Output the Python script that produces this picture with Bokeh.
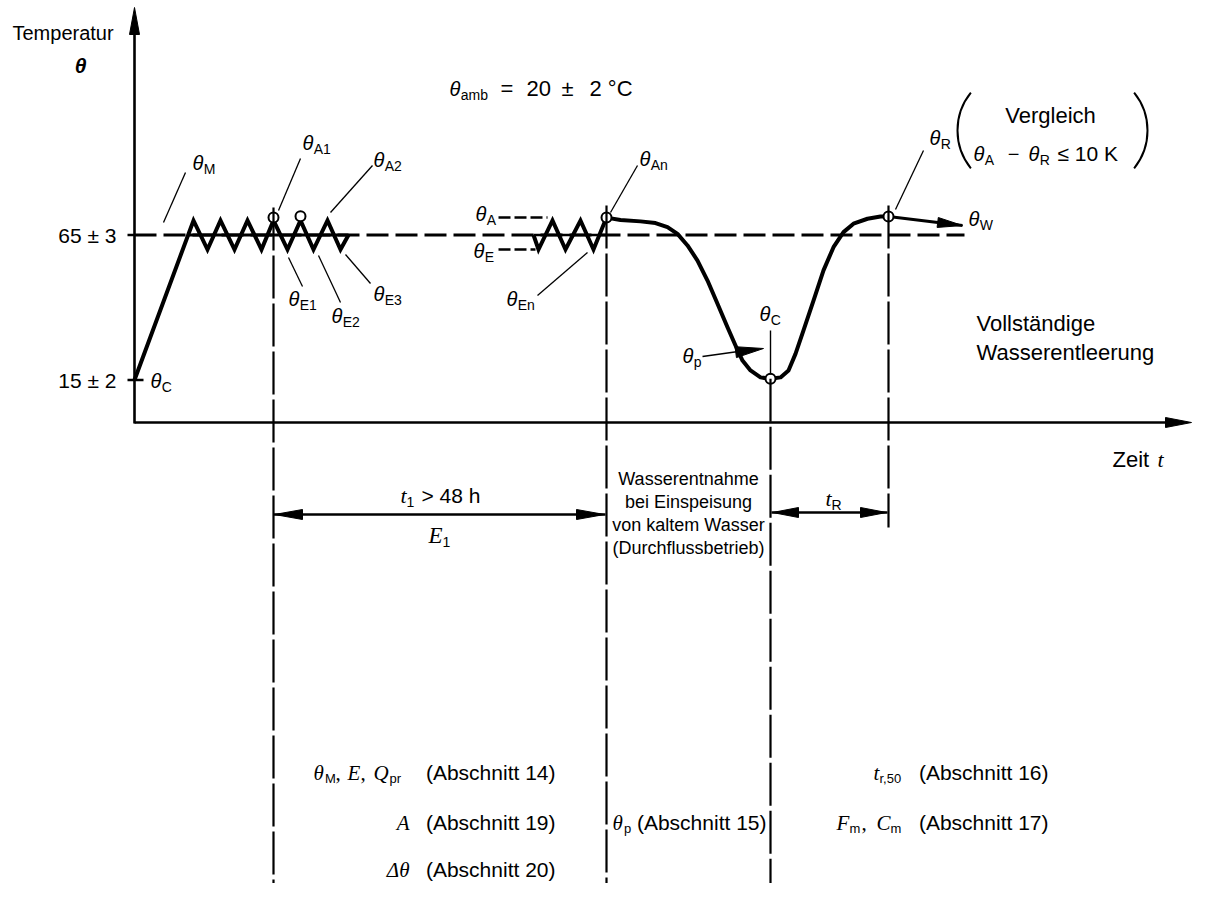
import math
from bokeh.plotting import figure
from bokeh.models import Range1d
from bokeh.embed import file_html
from bokeh.resources import INLINE
from bokeh.core.properties import value

# ---------------- data (time: arbitrary units, temperature: °C) ----------------
T_target = 65          # 65 ± 3
T_cold = 15            # 15 ± 2
tick_labels = ["65 ± 3", "15 ± 2"]
tick_values = [T_target, T_cold]

# heating ramp followed by on/off cycles (θ_A peaks / θ_E troughs)
heat_t = [0, 59, 73, 86, 100, 113, 127, 139, 153, 166, 179, 193, 206, 214]
heat_T = [15, 70, 60, 70, 60, 70, 60, 70, 60, 70, 60, 70, 60, 65]

# last cycles before the draw-off (θ_En, θ_An)
cycle_t = [399, 404, 418, 431, 446, 459, 472]
cycle_T = [65, 60, 70, 60, 70, 60, 71]

# draw-off with cold water feed and recovery (θ_An -> θ_C -> θ_R)
draw_t = [472, 486, 506, 521, 533, 543, 553, 563, 573, 583, 593, 601, 608, 616,
          626, 636, 646, 654, 661, 669, 679, 689, 699, 709, 719, 733, 746, 754]
draw_T = [71, 70.2, 69.7, 69.1, 67.7, 65.4, 61.4, 56.2, 49.3, 41.3, 33.2, 26.9,
          21.7, 18.3, 15.9, 15.4, 15.9, 18.3, 24.0, 32.1, 42.4, 52.8, 60.8, 66.0,
          68.9, 70.6, 71.4, 71.4]

# marked points: θ_A1, θ_A2, θ_An, θ_C, θ_R
mark_t = [139, 166, 472, 636, 754]
mark_T = [71, 71.5, 71, 15.4, 71.4]

# θ_W continuation
W_t = [754, 828]
W_T = [71.4, 68.3]

# ---------------- layout helpers (page pixels -> data units) ----------------
X0, Y0, K = 134.0, 423.0, 2.9
SANS = "Liberation Sans"
SERIF = "Liberation Serif"


def X(px):
    return px - X0


def Y(py):
    return (Y0 - py) / K


p = figure(width=1192, height=883, output_backend="svg", toolbar_location=None,
           x_range=Range1d(X(0), X(1192)), y_range=Range1d(Y(883), Y(0)),
           x_axis_type=None, y_axis_type=None, min_border=0, title=None)
p.outline_line_color = None
p.background_fill_color = "white"
p.border_fill_color = "white"
p.xgrid.visible = False
p.ygrid.visible = False


def txt(px, py, s, size=20, font=SANS, style="normal", align="left"):
    p.text(x=[X(px)], y=[Y(py)], text=[s], text_font=value(font),
           text_font_size=f"{size}px", text_font_style=style, text_align=align,
           text_baseline="middle", text_color="black")


def theta(px, py, sub, size=20, subsize=14, font=SANS, style="italic", w=0.56):
    txt(px, py, "θ", size, font, style)
    txt(px + w * size, py + 6, sub, subsize, SANS)


def seg(x0, y0, x1, y1, w=1.3, dash="solid"):
    p.line([X(x0), X(x1)], [Y(y0), Y(y1)], line_width=w, line_color="black",
           line_dash=dash)


def head(tx, ty, fx, fy, L=26, hw=5):
    dx, dy = tx - fx, ty - fy
    n = math.hypot(dx, dy)
    ux, uy = dx / n, dy / n
    bx, by = tx - ux * L, ty - uy * L
    nx, ny = -uy, ux
    pts = [(tx, ty), (bx + nx * hw, by + ny * hw), (bx - nx * hw, by - ny * hw)]
    p.patch([X(a) for a, b in pts], [Y(b) for a, b in pts], fill_color="black",
            line_color="black", line_width=1)


# ---------------- axes ----------------
seg(134, 423, 134, 30, 2.6)
head(134, 7, 134, 40, 27, 5)
seg(134, 422, 1170, 422, 2.6)
head(1191, 422, 1150, 422, 26, 5)

# ticks
p.line([X(127), 0], [T_target, T_target], line_width=2.5, line_color="black")
p.line([X(127), X(143)], [T_cold, T_cold], line_width=2.5, line_color="black")
txt(116, 235, tick_labels[0], 21, align="right")
txt(116, 380, tick_labels[1], 21, align="right")

txt(12, 32, "Temperatur", 20)
txt(80, 65, "θ", 21, SANS, "bold italic", "center")
txt(1112, 459, "Zeit", 22)
txt(1157, 459, "t", 22, SERIF, "italic")

# 65 °C reference line
p.line([0, X(964)], [T_target, T_target], line_width=3, line_color="black",
       line_dash="22 7")
p.line([53, 214], [T_target, T_target], line_width=3, line_color="black")
p.line([399, 472], [T_target, T_target], line_width=2.5, line_color="black")

# ---------------- curves ----------------
p.line(heat_t, heat_T, line_width=4, line_color="black", line_join="miter")
p.line(cycle_t, cycle_T, line_width=4, line_color="black", line_join="miter")
p.line(draw_t, draw_T, line_width=4, line_color="black", line_join="round")
p.line(W_t, W_T, line_width=3, line_color="black")
head(962, 225, 888, 216, 25, 5)

p.scatter(mark_t, mark_T, marker="circle", size=10, fill_color="white",
          line_color="black", line_width=2)

# ---------------- vertical dash-dot separators ----------------
VD = "43 5"
p.line([mark_t[0]] * 2, [Y(207), Y(899)], line_width=2.2, line_color="black", line_dash=VD)
p.line([mark_t[2]] * 2, [Y(205), Y(899)], line_width=2.2, line_color="black", line_dash=VD)
p.line([mark_t[3]] * 2, [mark_T[3], Y(899)], line_width=2.2, line_color="black", line_dash=VD)
p.line([mark_t[4]] * 2, [Y(205), Y(527)], line_width=2.2, line_color="black", line_dash=VD)
seg(770, 330, 770, 374, 1.4)

# ---------------- leaders and θ labels ----------------
seg(185, 172, 163, 222)
seg(300, 158, 278, 210)
seg(372, 165, 330, 212)
seg(288, 257, 302, 286)
seg(318, 255, 340, 302)
seg(345, 254, 370, 283)
seg(537, 295, 587, 252)
seg(637, 165, 610, 212)
seg(923, 150, 895, 209)
seg(498, 217, 547, 217, 2.5, "12 4")
seg(498, 249, 535, 249, 2.5, "12 4")

theta(150, 380, "C")
theta(192, 162, "M")
theta(302, 142, "A1")
theta(373, 159, "A2")
theta(288, 298, "E1")
theta(331, 315, "E2")
theta(373, 293, "E3")
theta(475, 213, "A")
theta(473, 250, "E")
theta(506, 298, "En")
theta(639, 158, "An")
theta(929, 137, "R")
theta(968, 218, "W")
theta(759, 313, "C")
theta(682, 355, "p")
seg(702, 356, 745, 350, 1.6)
head(763, 348, 702, 356, 28, 5.5)

# ambient
theta(449, 88, "amb")
txt(500, 88, "=", 22)
txt(526, 88, "20", 22)
txt(561, 88, "±", 22)
txt(589, 88, "2 °C", 22)

# comparison
p.arc(x=[X(1017)], y=[Y(130)], radius=60, radius_units="screen",
      start_angle=141, end_angle=219, start_angle_units="deg", end_angle_units="deg",
      line_color="black", line_width=2)
p.arc(x=[X(1087)], y=[Y(130)], radius=60, radius_units="screen",
      start_angle=-39, end_angle=39, start_angle_units="deg", end_angle_units="deg",
      line_color="black", line_width=2)
txt(1050, 115, "Vergleich", 22, align="center")
theta(973, 153, "A")
txt(1013, 153, "−", 20, align="center")
theta(1028, 153, "R")
txt(1057, 153, "≤ 10 K", 21)

txt(976, 323, "Vollständige", 22)
txt(976, 352, "Wasserentleerung", 22)

# ---------------- time spans ----------------
seg(273, 514, 605, 514, 2.5)
head(274, 514, 320, 514, 28, 5)
head(604, 514, 560, 514, 28, 5)
txt(400, 495, "t", 22, SERIF, "italic")
txt(406, 501, "1", 14)
txt(421, 495, "> 48 h", 21)
txt(428, 535, "E", 23, SERIF, "italic")
txt(442, 541, "1", 14)

seg(771, 512, 887, 512, 2.5)
head(772, 512, 820, 512, 26, 5)
head(886, 512, 840, 512, 26, 5)
txt(825, 498, "t", 22, SERIF, "italic")
txt(831, 504, "R", 14)

for i, line in enumerate(["Wasserentnahme", "bei Einspeisung", "von kaltem Wasser",
                          "(Durchflussbetrieb)"]):
    txt(688, 478 + 23 * i, line, 18, align="center")

# ---------------- bottom references ----------------
theta(313, 772, "M", 21, 13, SERIF, "italic", 0.55)
txt(335, 772, ",", 21, SERIF)
txt(347, 772, "E", 21, SERIF, "italic")
txt(360, 772, ",", 21, SERIF)
txt(373, 772, "Q", 21, SERIF, "italic")
txt(389, 778, "pr", 13)
txt(555, 772, "(Abschnitt 14)", 21, align="right")

txt(409, 822, "A", 21, SERIF, "italic", "right")
txt(555, 822, "(Abschnitt 19)", 21, align="right")

txt(409, 869, "Δθ", 21, SERIF, "italic", "right")
txt(555, 869, "(Abschnitt 20)", 21, align="right")

theta(612, 822, "p", 21, 13, SERIF, "italic", 0.55)
txt(766, 822, "(Abschnitt 15)", 21, align="right")

txt(873, 772, "t", 21, SERIF, "italic")
txt(879, 778, "r,50", 13)
txt(1048, 772, "(Abschnitt 16)", 21, align="right")

txt(836, 822, "F", 21, SERIF, "italic")
txt(849, 828, "m", 13)
txt(861, 822, ",", 21, SERIF)
txt(876, 822, "C", 21, SERIF, "italic")
txt(890, 828, "m", 13)
txt(1048, 822, "(Abschnitt 17)", 21, align="right")

open("out.html", "w").write(file_html(p, INLINE))
